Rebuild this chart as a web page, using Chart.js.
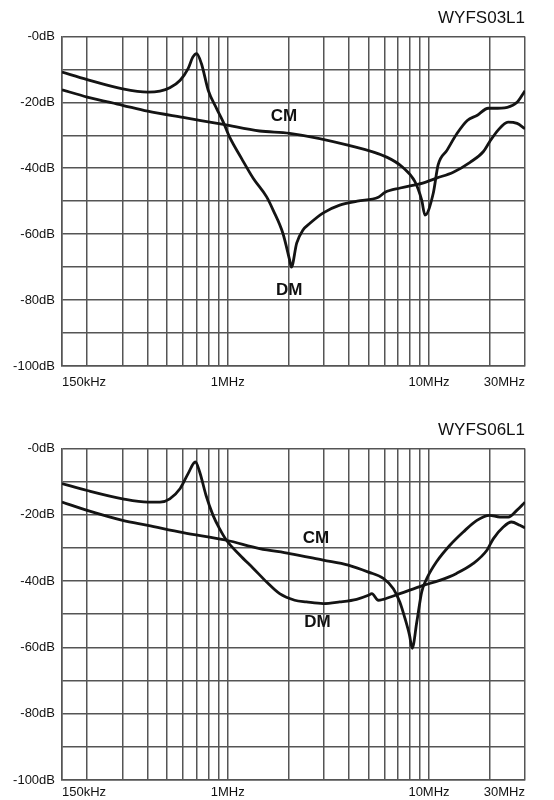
<!DOCTYPE html>
<html>
<head>
<meta charset="utf-8">
<script src="https://cdn.jsdelivr.net/npm/chart.js@4.4.1/dist/chart.umd.min.js"></script>
<style>
    body { margin: 0; background: #fff; }
    .wrap { position: absolute; left: 0; width: 554px; height: 400px; }
    #top { top: 0; }
    #bottom { top: 400px; }
</style>
</head>
<body>
<div class="wrap" id="top"><canvas id="chart03" width="554" height="400"></canvas></div>
<div class="wrap" id="bottom"><canvas id="chart06" width="554" height="400"></canvas></div>
<script>
// Axis grid + tick labels (frequency in MHz, attenuation in dB)
const xGridValues = [0.15, 0.2, 0.3, 0.4, 0.5, 0.6, 0.7, 0.8, 0.9, 1, 2, 3, 4, 5, 6, 7, 8, 9, 10, 20, 30];
const xLabelValues = [0.15, 1, 10, 30];
const xLabelText = ['150kHz', '1MHz', '10MHz', '30MHz'];
const yTickValues = [0, -10, -20, -30, -40, -50, -60, -70, -80, -90, -100];
const yTickText = ['-0dB', '', '-20dB', '', '-40dB', '', '-60dB', '', '-80dB', '', '-100dB'];

// WYFS03L1
const fs03DmFreq = [0.15, 0.2, 0.3, 0.4, 0.46, 0.515, 0.58, 0.635, 0.67, 0.70, 0.74, 0.80, 0.88, 0.95, 1.02, 1.17, 1.34, 1.56, 1.68, 1.88, 2.03, 2.07, 2.2, 2.36, 2.56, 2.97, 3.6, 4.4, 5.6, 6.05, 7.2, 9.3, 10.9, 13.2, 16, 18.6, 20, 22, 24.7, 27.4, 30];
const fs03DmDb = [-10.8, -13.1, -15.9, -16.9, -16.6, -15.6, -13.3, -9.8, -6.3, -5.2, -8.3, -16.4, -21.9, -26, -30.5, -37, -43.1, -48.7, -52.7, -59.8, -67.9, -70, -62.7, -58.8, -56.7, -53.6, -51.2, -50, -48.8, -47.3, -46, -44.5, -43, -41.2, -38.2, -35, -32, -28.5, -26, -26.4, -28];
const fs03CmFreq = [0.15, 0.2, 0.3, 0.4, 0.6, 0.95, 1.44, 2.03, 3.95, 6.2, 7.4, 8.5, 9.2, 9.55, 10.5, 11.1, 12.3, 13.8, 15.5, 17.3, 19.7, 20.8, 24.5, 27.4, 29.4, 30];
const fs03CmDb = [-16.2, -18.4, -20.9, -22.7, -24.6, -26.7, -28.7, -29.4, -33, -36.7, -39.7, -44, -49.7, -54.2, -47.6, -39, -34.5, -29.4, -25.5, -24, -21.8, -21.8, -21.5, -20, -17.3, -16.5];

// WYFS06L1
const fs06DmFreq = [0.15, 0.2, 0.3, 0.4, 0.46, 0.515, 0.58, 0.635, 0.69, 0.725, 0.78, 0.845, 0.91, 0.985, 1.15, 1.34, 1.56, 1.81, 2.15, 2.46, 2.98, 3.6, 4.37, 5.0, 5.2, 5.6, 5.93, 7.16, 9.37, 11.3, 13.7, 16.6, 19.4, 20.9, 23.4, 25.7, 28.3, 30];
const fs06DmDb = [-10.6, -12.7, -15.2, -16.2, -16.2, -15.2, -12.1, -7.6, -4.1, -7.1, -14.2, -20.2, -24.2, -27.7, -32.2, -36.2, -40.3, -43.8, -45.8, -46.3, -46.8, -46.3, -45.5, -44.3, -43.8, -45.8, -45.5, -43.8, -41.3, -39.8, -37.7, -34.7, -30.7, -27.2, -23.7, -22.2, -23.2, -24];
const fs06CmFreq = [0.15, 0.2, 0.3, 0.4, 0.6, 0.985, 1.44, 2.03, 2.98, 3.97, 5.0, 5.93, 6.65, 7.16, 7.6, 8.0, 8.25, 8.7, 9.2, 9.76, 10.9, 12.7, 14.8, 17.3, 20, 22.5, 24.8, 27.3, 30];
const fs06CmDb = [-16.2, -18.7, -21.7, -23.2, -25.4, -27.7, -30.2, -31.7, -33.7, -35.2, -37.3, -39.2, -42.3, -46.3, -51.3, -56.3, -60.3, -52.3, -43.3, -39.2, -34.2, -29.2, -25.2, -21.7, -20.2, -20.7, -20.7, -18.7, -16.2];

// Curve name labels, placed in data coords [MHz, dB]
const fs03LabelText = ['CM', 'DM'];
const fs03LabelPos = [[1.9, -24.2], [2.02, -77.1]];
const fs06LabelText = ['CM', 'DM'];
const fs06LabelPos = [[2.74, -27], [2.79, -52.3]];

const FONT = '"Liberation Sans", Arial, Helvetica, sans-serif';
const GRID = '#555';

function toPoints(freqs, dbs) {
    return freqs.map((f, i) => ({ x: f, y: dbs[i] }));
};

// draws "CM" / "DM" next to the curves
const curveLabels = {
    id: 'curveLabels',
    afterDatasetsDraw(chart, args, opts) {
        const { ctx, scales: { x, y } } = chart;
        ctx.save();
        ctx.font = 'bold 17px ' + FONT;
        ctx.fillStyle = '#111';
        ctx.textAlign = 'center';
        ctx.textBaseline = 'middle';
        opts.text.forEach((t, i) => {
            ctx.fillText(t, x.getPixelForValue(opts.pos[i][0]), y.getPixelForValue(opts.pos[i][1]));
        });
        ctx.restore();
    }
};

function makeChart(canvasId, title, titlePad, xAxisHeight, xLabelPad, dm, cm, labelText, labelPos) {
    const lineStyle = {
        borderColor: '#141414',
        borderWidth: 2.8,
        pointRadius: 0,
        fill: false,
        cubicInterpolationMode: 'monotone'
    };
    const config = {
        type: 'line',
        data: {
            datasets: [
                Object.assign({ label: 'DM', data: toPoints(dm[0], dm[1]) }, lineStyle),
                Object.assign({ label: 'CM', data: toPoints(cm[0], cm[1]) }, lineStyle)
            ]
        },
        options: {
            responsive: false,
            animation: false,
            layout: { padding: { left: 0, right: 29, top: 0, bottom: 0 } },
            plugins: {
                legend: { display: false },
                tooltip: { enabled: false },
                title: {
                    display: true,
                    text: title,
                    align: 'end',
                    color: '#111',
                    font: { family: FONT, size: 17, weight: 'normal', lineHeight: 1.2 },
                    padding: titlePad
                },
                curveLabels: { text: labelText, pos: labelPos }
            },
            scales: {
                x: {
                    type: 'logarithmic',
                    min: 0.15,
                    max: 30,
                    afterBuildTicks: (scale) => { scale.ticks = xGridValues.map(v => ({ value: v })); },
                    afterFit: (scale) => { scale.height = xAxisHeight; },
                    grid: { color: GRID, lineWidth: 1.5, drawTicks: false },
                    border: { display: true, color: GRID, width: 1.5 },
                    ticks: {
                        autoSkip: false,
                        maxRotation: 0,
                        align: 'inner',
                        padding: xLabelPad,
                        color: '#111',
                        font: { family: FONT, size: 13 },
                        callback: (value) => {
                            const i = xLabelValues.indexOf(value);
                            return i >= 0 ? xLabelText[i] : '';
                        }
                    }
                },
                y: {
                    type: 'linear',
                    min: -100,
                    max: 0,
                    afterBuildTicks: (scale) => { scale.ticks = yTickValues.map(v => ({ value: v })); },
                    afterFit: (scale) => { scale.width = 62; },
                    grid: { color: GRID, lineWidth: 1.5, drawTicks: false },
                    border: { display: true, color: GRID, width: 1.5 },
                    ticks: {
                        padding: 7,
                        color: '#111',
                        font: { family: FONT, size: 13 },
                        callback: (value) => {
                            const i = yTickValues.indexOf(value);
                            return i >= 0 ? yTickText[i] : '';
                        }
                    }
                }
            }
        },
        plugins: [curveLabels]
    };
    return new Chart(document.getElementById(canvasId).getContext('2d'), config);
};

makeChart('chart03', 'WYFS03L1', { top: 8, bottom: 8 }, 34, 9,
    [fs03DmFreq, fs03DmDb], [fs03CmFreq, fs03CmDb], fs03LabelText, fs03LabelPos);
makeChart('chart06', 'WYFS06L1', { top: 20, bottom: 8 }, 20, 5,
    [fs06DmFreq, fs06DmDb], [fs06CmFreq, fs06CmDb], fs06LabelText, fs06LabelPos);
</script>
</body>
</html>
